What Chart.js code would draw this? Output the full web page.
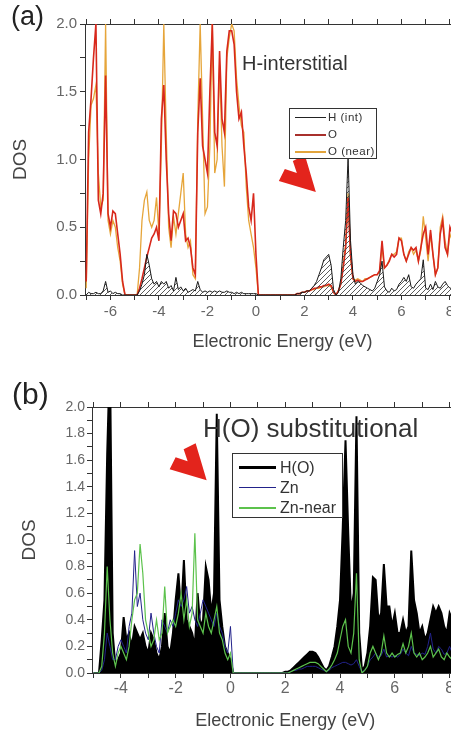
<!DOCTYPE html>
<html>
<head>
<meta charset="utf-8">
<script src="https://cdn.jsdelivr.net/npm/chart.js@4.4.0/dist/chart.umd.min.js"></script>
<style>
html,body{margin:0;padding:0;background:#fff;overflow:hidden;width:451px;height:730px}
.panel{position:relative;width:480px;height:365px}
canvas{display:block}
.lbl{position:absolute;font-family:"Liberation Sans",Arial,sans-serif;line-height:1;white-space:nowrap;color:#222}
.leg{position:absolute;background:#fff;border:1px solid #333;box-sizing:border-box}
.leg .ln{position:absolute}
.leg .tx{position:absolute;font-family:"Liberation Sans",Arial,sans-serif;line-height:1;white-space:nowrap;color:#333}
</style>
</head>
<body>
<div class="panel" id="pa">
  <canvas id="chartA" width="480" height="365"></canvas>
  <div class="lbl" style="left:11px;top:3px;font-size:27px">(a)</div>
  <div class="lbl" style="left:242px;top:53px;font-size:20px;color:#333">H-interstitial</div>
  <div class="leg" style="left:289px;top:108px;width:88px;height:51px">
    <div class="ln" style="left:5px;top:8px;width:31px;height:1px;background:#222"></div>
    <div class="tx" style="left:38px;top:3px;font-size:11.5px;letter-spacing:0.5px">H (int)</div>
    <div class="ln" style="left:5px;top:25px;width:31px;height:2px;background:#a8302c"></div>
    <div class="tx" style="left:38px;top:20px;font-size:11.5px;letter-spacing:0.5px">O</div>
    <div class="ln" style="left:5px;top:42px;width:31px;height:2px;background:#e2a43c"></div>
    <div class="tx" style="left:38px;top:37px;font-size:11.5px;letter-spacing:0.5px">O (near)</div>
  </div>
</div>
<div class="panel" id="pb">
  <canvas id="chartB" width="480" height="365"></canvas>
  <div class="lbl" style="left:12px;top:14px;font-size:30px">(b)</div>
  <div class="lbl" style="left:203px;top:50px;font-size:26px;color:#333">H(O) substitutional</div>
  <div class="leg" style="left:232px;top:88px;width:111px;height:65px">
    <div class="ln" style="left:6px;top:12px;width:37px;height:3px;background:#000"></div>
    <div class="tx" style="left:47px;top:6px;font-size:16px">H(O)</div>
    <div class="ln" style="left:6px;top:33px;width:37px;height:1px;background:#22228a"></div>
    <div class="tx" style="left:47px;top:26px;font-size:16px">Zn</div>
    <div class="ln" style="left:6px;top:53px;width:37px;height:2px;background:#5cc24c"></div>
    <div class="tx" style="left:47px;top:46px;font-size:16px">Zn-near</div>
  </div>
</div>
<script>
// ---- panel (a) : H-interstitial ----
var energyA = [
  -7.0,-6.9,-6.8,-6.7,-6.6,-6.5,-6.4,-6.3,-6.2,-6.1,
  -6.0,-5.9,-5.8,-5.7,-5.6,-5.5,-5.4,-5.3,-5.2,-5.1,
  -5.0,-4.9,-4.8,-4.7,-4.6,-4.5,-4.4,-4.3,-4.2,-4.1,
  -4.0,-3.9,-3.8,-3.7,-3.6,-3.5,-3.4,-3.3,-3.2,-3.1,
  -3.0,-2.9,-2.8,-2.7,-2.6,-2.5,-2.4,-2.3,-2.2,-2.1,
  -2.0,-1.9,-1.8,-1.7,-1.6,-1.5,-1.4,-1.3,-1.2,-1.1,
  -1.0,-0.9,-0.8,-0.7,-0.6,-0.5,-0.4,-0.3,-0.2,-0.1,
  0.0,0.1,0.2,0.3,0.4,0.5,0.6,0.7,0.8,0.9,
  1.0,1.1,1.2,1.3,1.4,1.5,1.6,1.7,1.8,1.9,
  2.0,2.1,2.2,2.3,2.4,2.5,2.6,2.7,2.8,2.9,
  3.0,3.1,3.2,3.3,3.4,3.5,3.6,3.7,3.8,3.9,
  4.0,4.1,4.2,4.3,4.4,4.5,4.6,4.7,4.8,4.9,
  5.0,5.1,5.2,5.3,5.4,5.5,5.6,5.7,5.8,5.9,
  6.0,6.1,6.2,6.3,6.4,6.5,6.6,6.7,6.8,6.9,
  7.0,7.1,7.2,7.3,7.4,7.5,7.6,7.7,7.8,7.9,
  8.0,8.1
];
var hIntA = [
  0,.02,.01,.01,.02,.01,.01,.03,.1,.02,
  .03,.01,.02,.01,.01,0,0,0,0,0,
  0,0,.03,.08,.15,.3,.22,.12,.08,.1,
  .06,.1,.08,.1,.05,.07,.03,.13,.04,.06,
  .03,.05,.02,.03,.04,.03,.1,.04,.02,.03,
  .02,.03,.02,.03,.02,.03,.02,.02,.03,.02,
  .02,.01,.02,.01,.02,.01,.01,.01,.01,.01,
  .01,0,0,0,0,0,0,0,0,0,
  0,0,0,0,0,0,0,.01,.01,.02,
  .02,.03,.03,.05,.07,.1,.15,.2,.26,.28,
  .3,.22,.04,0,.02,.12,.35,.55,1.02,.4,
  .15,.08,.1,.09,.07,.06,.05,.04,.03,.05,
  .1,.15,.25,.06,.03,.02,.05,.03,.04,.08,
  .1,.13,.1,.15,.06,.05,.08,.1,.12,.26,
  .05,.04,.08,.04,.1,.06,.05,.08,.1,.07,
  .05,.05
];
var oA = [
  .1,1.2,1.45,1.75,2.0,.7,.6,.75,1.62,.6,
  .5,.62,.6,.45,.3,.1,0,0,0,0,
  0,0,.05,.12,.2,.28,.35,.42,.45,.5,
  .4,1.3,1.55,1.0,.6,.4,.62,.6,.5,.55,
  .6,.4,.42,.35,.2,.15,1.2,1.6,1.1,1.0,
  .9,1.5,2.0,1.2,1.1,1.8,1.3,1.2,1.8,1.95,
  1.95,1.85,1.5,1.3,1.35,1.1,.9,.65,.55,.75,
  .3,0,0,0,0,0,0,0,0,0,
  0,0,0,0,0,0,0,.01,.01,.02,
  .02,.03,.03,.04,.05,.05,.06,.06,.07,.07,
  .08,.07,.02,0,.03,.08,.2,.35,.72,.3,
  .12,.1,.11,.1,.1,.11,.12,.13,.14,.15,
  .15,.18,.4,.2,.22,.25,.3,.28,.3,.42,
  .4,.3,.25,.3,.35,.33,.35,.25,.35,.45,
  .5,.3,.48,.3,.15,.2,.45,.55,.35,.3,
  .5,.45
];
var oNearA = [
  .05,1.0,1.4,1.45,1.55,.9,.65,.7,2.0,.55,
  .45,.55,.5,.35,.25,.08,0,0,0,0,
  0,0,.2,.55,.7,.76,.55,.5,.55,.72,
  .45,1.1,2.0,1.2,.5,.35,.58,.45,.6,.75,
  .9,.45,.35,.4,.15,.12,1.3,2.0,1.3,.6,
  .65,1.1,2.0,.9,1.0,1.7,1.1,.8,1.75,1.9,
  2.0,1.95,1.6,1.4,1.25,1.2,.8,.55,.45,.35,
  .2,0,0,0,0,0,0,0,0,0,
  0,0,0,0,0,0,0,.01,.01,.02,
  .02,.03,.03,.04,.04,.05,.05,.06,.06,.07,
  .07,.06,.02,0,.03,.08,.22,.38,.75,.28,
  .12,.11,.12,.11,.1,.12,.12,.13,.14,.15,
  .15,.17,.35,.2,.22,.26,.3,.3,.32,.42,
  .42,.3,.25,.32,.35,.3,.33,.25,.33,.58,
  .42,.25,.45,.3,.15,.2,.5,.58,.4,.3,
  .45,.4
];

// ---- panel (b) : H(O) substitutional ----
var energyB = [
  -5.0,-4.9,-4.8,-4.7,-4.6,-4.5,-4.4,-4.3,-4.2,-4.1,
  -4.0,-3.9,-3.8,-3.7,-3.6,-3.5,-3.4,-3.3,-3.2,-3.1,
  -3.0,-2.9,-2.8,-2.7,-2.6,-2.5,-2.4,-2.3,-2.2,-2.1,
  -2.0,-1.9,-1.8,-1.7,-1.6,-1.5,-1.4,-1.3,-1.2,-1.1,
  -1.0,-0.9,-0.8,-0.7,-0.6,-0.5,-0.4,-0.3,-0.2,-0.1,
  0.0,0.1,0.2,0.3,0.4,0.5,0.6,0.7,0.8,0.9,
  1.0,1.1,1.2,1.3,1.4,1.5,1.6,1.7,1.8,1.9,
  2.0,2.1,2.2,2.3,2.4,2.5,2.6,2.7,2.8,2.9,
  3.0,3.1,3.2,3.3,3.4,3.5,3.6,3.7,3.8,3.9,
  4.0,4.1,4.2,4.3,4.4,4.5,4.6,4.7,4.8,4.9,
  5.0,5.1,5.2,5.3,5.4,5.5,5.6,5.7,5.8,5.9,
  6.0,6.1,6.2,6.3,6.4,6.5,6.6,6.7,6.8,6.9,
  7.0,7.1,7.2,7.3,7.4,7.5,7.6,7.7,7.8,7.9,
  8.0,8.1
];
var hOB = [
  0,0,0,.25,.55,1.65,2.4,.3,.05,.1,
  .15,.42,.25,.3,.2,.35,.3,.25,.3,.2,
  .15,.3,.25,.15,.1,.2,.45,.2,.15,.3,
  .55,.75,.45,.85,.4,.35,.3,.2,.6,.35,
  .4,.8,.7,.45,.6,1.95,.55,.35,.2,.15,
  .1,0,0,0,0,0,0,0,0,0,
  0,0,0,0,0,0,0,0,0,0,
  .01,.01,.02,.04,.06,.08,.1,.12,.14,.16,
  .16,.15,.12,.08,.04,.02,.05,.12,.2,.35,
  .55,1.1,1.75,1.05,.45,.6,1.93,.3,.02,.05,
  .15,.35,.72,.7,.4,.45,.82,.5,.5,.35,
  .45,.3,.3,.4,.3,.35,.92,.55,.45,.3,
  .35,.25,.3,.4,.5,.45,.5,.45,.35,.3,
  .45,.4
];
var znB = [
  0,0,0,.02,.1,.3,.2,.1,.1,.2,
  .25,.2,.15,.35,.45,.92,.5,.6,.4,.3,
  .25,.45,.3,.2,.15,.4,.35,.3,.4,.35,
  .45,.55,.5,.55,.65,.45,.5,.4,.35,.45,
  .55,.5,.45,.4,.35,.45,.35,.3,.2,.15,
  .35,0,0,0,0,0,0,0,0,0,
  0,0,0,0,0,0,0,0,0,0,
  0,0,.01,.02,.02,.03,.03,.04,.05,.05,
  .05,.05,.04,.03,.02,.01,.02,.04,.05,.06,
  .07,.08,.08,.07,.06,.07,.1,.05,.01,.02,
  .05,.1,.12,.15,.12,.13,.18,.12,.13,.12,
  .13,.12,.14,.18,.15,.13,.2,.15,.14,.13,
  .15,.14,.2,.3,.18,.15,.2,.18,.14,.15,
  .2,.15
];
var znNearB = [
  0,0,0,.05,.3,.8,.4,.15,.05,.15,
  .2,.15,.1,.2,.4,.55,.6,.97,.75,.4,
  .3,.2,.25,.4,.25,.3,.65,.3,.35,.4,
  .35,.45,.6,.4,.55,.35,.45,1.05,.4,.35,
  .3,.45,.35,.3,.4,.5,.3,.25,.15,.1,
  .15,0,0,0,0,0,0,0,0,0,
  0,0,0,0,0,0,0,0,0,0,
  0,0,.01,.02,.03,.04,.05,.06,.07,.08,
  .08,.08,.07,.05,.03,.01,.03,.06,.1,.15,
  .25,.35,.4,.2,.15,.3,.75,.1,0,.02,
  .05,.15,.2,.15,.1,.15,.28,.15,.12,.15,
  .12,.14,.15,.22,.15,.2,.3,.15,.12,.15,
  .1,.12,.15,.2,.12,.15,.18,.12,.1,.15,
  .12,.1
];

Chart.defaults.font.family = '"Liberation Sans", Arial, sans-serif';

function pts(xs, ys) {
  return xs.map(function(x, i) { return {x: x, y: ys[i]}; });
}

// diagonal hatching for the H(int) area
function hatch(ctx) {
  var c = document.createElement('canvas');
  c.width = 5; c.height = 5;
  var g = c.getContext('2d');
  g.strokeStyle = '#4a4a4a';
  g.lineWidth = 0.9;
  g.beginPath();
  g.moveTo(0, 5); g.lineTo(5, 0);
  g.moveTo(-1, 1); g.lineTo(1, -1);
  g.moveTo(4, 6); g.lineTo(6, 4);
  g.stroke();
  return ctx.createPattern(c, 'repeat');
}

// red arrow, tip anchored in data coords
var arrowPlugin = {
  id: 'arrow',
  afterDatasetsDraw: function(chart, args, opts) {
    var ctx = chart.ctx;
    var x = chart.scales.x.getPixelForValue(opts.at[0]);
    var y = chart.scales.y.getPixelForValue(opts.at[1]);
    var shape = [[0,0],[-37,-11],[-31,-23],[-19,-19],[-23,-31],[-11,-37]];
    ctx.save();
    ctx.fillStyle = '#e3241c';
    ctx.beginPath();
    shape.forEach(function(p, i) {
      if (i) ctx.lineTo(x + p[0], y + p[1]); else ctx.moveTo(x + p[0], y + p[1]);
    });
    ctx.closePath();
    ctx.fill();
    ctx.restore();
  }
};

function makeChart(id, cfg) {
  var ctx = document.getElementById(id).getContext('2d');
  var axisLine = {display: true, color: '#333', width: 1};
  var tickGrid = {drawOnChartArea: false, drawTicks: true, tickLength: 5, color: '#333'};
  return new Chart(ctx, {
    type: 'line',
    data: {datasets: cfg.datasets(ctx)},
    plugins: [arrowPlugin],
    options: {
      responsive: false,
      animation: false,
      layout: {padding: 0},
      elements: {point: {radius: 0}, line: {tension: 0}},
      plugins: {legend: {display: false}, tooltip: {enabled: false}, arrow: {at: cfg.arrow}},
      scales: {
        x: {
          type: 'linear', position: 'bottom', min: cfg.xmin, max: cfg.xmax,
          border: axisLine, grid: tickGrid,
          ticks: {stepSize: cfg.xstep, includeBounds: false, color: '#666', padding: cfg.xpad,
            font: {size: cfg.xfont}, maxRotation: 0, autoSkip: false,
            callback: function(v) { return Math.round(v) % 2 === 0 ? String(Math.round(v)) : ''; }},
          title: {display: true, text: 'Electronic Energy (eV)', color: '#444',
            font: {size: 18, lineHeight: 1}, padding: {top: 0, bottom: cfg.xtitlePad}},
          afterFit: function(s) { s.height = cfg.bottomH; }
        },
        x2: {
          type: 'linear', position: 'top', min: cfg.xmin, max: cfg.xmax,
          border: axisLine, grid: tickGrid,
          ticks: {stepSize: cfg.xstep, includeBounds: false, autoSkip: false, callback: function() { return ''; }},
          afterFit: function(s) { s.height = cfg.topH; }
        },
        y: {
          min: 0, max: 2,
          border: axisLine, grid: tickGrid,
          ticks: {stepSize: cfg.ystep, color: '#666', padding: cfg.ypad, font: {size: cfg.yfont}, autoSkip: false,
            callback: function(v) { return Math.round(v / cfg.ystep) % 2 === 0 ? v.toFixed(1) : ''; }},
          title: {display: true, text: 'DOS', color: '#444', font: {size: 19, lineHeight: 1.2},
            padding: {top: cfg.ytitlePad, bottom: 0}},
          afterFit: function(s) { s.width = cfg.leftW; }
        }
      }
    }
  });
}

makeChart('chartA', {
  xmin: -7.05, xmax: 9.24, xstep: 1, ystep: 0.25,
  topH: 24, bottomH: 70, leftW: 85,
  xpad: 3, xfont: 15, yfont: 15, ypad: 3, xtitlePad: 14, ytitlePad: 9,
  arrow: [2.47, 0.76],
  datasets: function(ctx) {
    return [
      {label: 'H (int)', data: pts(energyA, hIntA), borderColor: '#1a1a1a', borderWidth: 1,
        fill: 'origin', backgroundColor: hatch(ctx), order: 1},
      {label: 'O', data: pts(energyA, oA), borderColor: '#d8281c', borderWidth: 1.6, fill: false, order: 2},
      {label: 'O (near)', data: pts(energyA, oNearA), borderColor: '#e6a53a', borderWidth: 1.3, fill: false, order: 3}
    ];
  }
});

makeChart('chartB', {
  xmin: -5.055, xmax: 9.05, xstep: 1, ystep: 0.1,
  topH: 42, bottomH: 57, leftW: 92,
  xpad: 1, xfont: 16, yfont: 14, ypad: 2, xtitlePad: 0, ytitlePad: 18,
  arrow: [-0.87, 1.45],
  datasets: function(ctx) {
    return [
      {label: 'H(O)', data: pts(energyB, hOB), borderColor: '#000', borderWidth: 2,
        fill: 'origin', backgroundColor: '#000', order: 3},
      {label: 'Zn', data: pts(energyB, znB), borderColor: '#22228a', borderWidth: 1, fill: false, order: 2},
      {label: 'Zn-near', data: pts(energyB, znNearB), borderColor: '#5cc24c', borderWidth: 1.2, fill: false, order: 1}
    ];
  }
});
</script>
</body>
</html>
